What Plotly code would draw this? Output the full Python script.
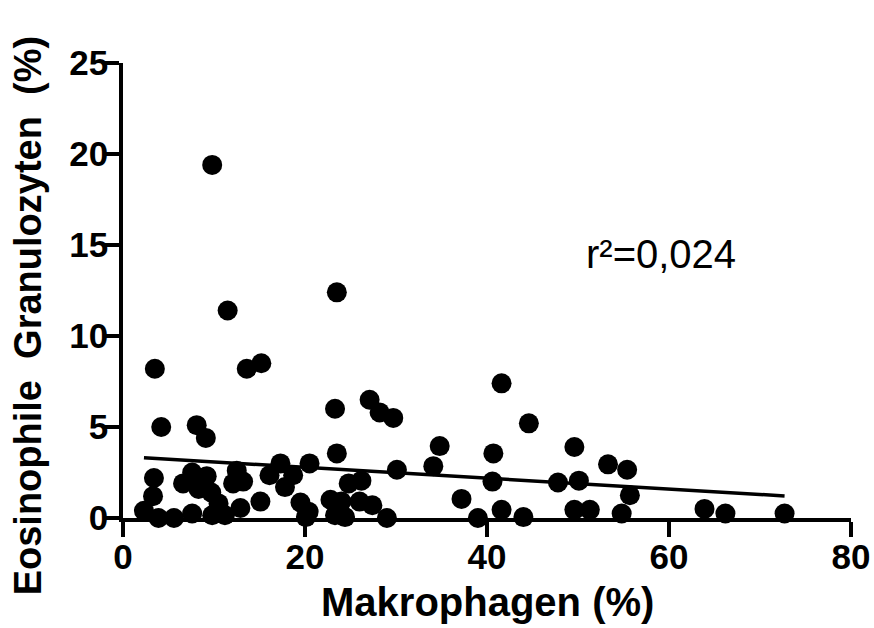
import plotly.graph_objects as go

# Macrophage share (%) and eosinophil share (%) per sample
makrophagen = [
    9.8, 11.5, 23.5, 3.5, 13.6, 15.2, 4.2, 8.1, 9.1, 23.3,
    27.1, 28.2, 29.7, 41.6, 44.6, 3.4, 3.3, 2.3, 3.9, 5.6,
    7.6, 6.6, 7.6, 9.2, 8.3, 9.7, 10.5, 9.8, 11.2, 12.1,
    12.5, 13.2, 12.9, 15.1, 16.1, 17.3, 17.8, 18.7, 19.5, 20.4,
    20.5, 20.1, 23.5, 22.8, 24.0, 23.3, 24.4, 24.8, 26.2, 26.0,
    27.4, 29.0, 30.1, 34.1, 34.8, 37.2, 39.0, 40.7, 40.6, 41.6,
    44.0, 47.8, 49.6, 50.1, 49.6, 51.3, 53.3, 55.4, 55.7, 54.8,
    63.9, 66.2, 72.7,
]
eosinophile = [
    19.4, 11.4, 12.4, 8.2, 8.2, 8.5, 5.0, 5.1, 4.4, 6.0,
    6.5, 5.8, 5.5, 7.4, 5.2, 2.2, 1.2, 0.4, 0.0, 0.0,
    0.25, 1.9, 2.5, 2.3, 1.6, 1.4, 0.8, 0.15, 0.15, 1.9,
    2.6, 2.0, 0.55, 0.9, 2.35, 3.0, 1.7, 2.35, 0.85, 0.35,
    3.0, 0.05, 3.55, 1.0, 0.9, 0.15, 0.05, 1.9, 2.05, 0.9,
    0.7, 0.0, 2.65, 2.85, 3.95, 1.05, 0.0, 3.55, 2.0, 0.45,
    0.05, 1.95, 3.9, 2.05, 0.45, 0.45, 2.95, 2.65, 1.25, 0.25,
    0.5, 0.25, 0.25,
]

# Linear regression line and its coefficient of determination
fit_slope = -0.0298
fit_intercept = 3.38
r2_text = "r²=0,024"

x_ticks = [0, 20, 40, 60, 80]
y_ticks = [0, 5, 10, 15, 20, 25]

x_title = "Makrophagen (%)"
y_title = "Eosinophile\u00a0 Granulozyten\u00a0 (%)"

fit_x = [min(makrophagen), max(makrophagen)]
fit_y = [fit_intercept + fit_slope * v for v in fit_x]

fig = go.Figure()
fig.add_trace(go.Scatter(
    x=fit_x, y=fit_y, mode="lines",
    line=dict(color="black", width=3.5),
    hoverinfo="skip", showlegend=False,
))
fig.add_trace(go.Scatter(
    x=makrophagen, y=eosinophile, mode="markers",
    marker=dict(color="black", size=20, line=dict(width=0)),
    cliponaxis=False, showlegend=False,
))

bold = dict(family="Liberation Sans, Arial, sans-serif", color="black", weight="bold")

axis_common = dict(
    showline=True, linecolor="black", linewidth=3.5,
    ticks="outside", ticklen=15, tickwidth=3.5, tickcolor="black",
    showgrid=False, zeroline=False, automargin=False,
    tickfont=dict(size=35, **bold),
)

fig.update_xaxes(range=[0, 80], tickvals=x_ticks, ticktext=[str(t) for t in x_ticks],
                 ticklabelstandoff=-10, **axis_common)
fig.update_yaxes(range=[0, 25], tickvals=y_ticks, ticktext=[str(t) for t in y_ticks],
                 ticklabelstandoff=-11, **axis_common)

fig.add_annotation(
    text=x_title, xref="paper", yref="paper", x=0.5, y=-0.185,
    xanchor="center", yanchor="middle", showarrow=False,
    font=dict(size=40, **bold),
)
fig.add_annotation(
    text=y_title, xref="paper", yref="paper", x=-0.130, y=0.444,
    xanchor="center", yanchor="middle", textangle=-90, showarrow=False,
    font=dict(size=38, **bold),
)
fig.add_annotation(
    text=r2_text, xref="x", yref="y", x=59.1, y=14.5,
    xanchor="center", yanchor="middle", showarrow=False,
    font=dict(family="Liberation Sans, Arial, sans-serif", size=40, color="black"),
)

fig.update_layout(
    width=874, height=628,
    margin=dict(l=123, r=23, t=63, b=110),
    plot_bgcolor="white", paper_bgcolor="white",
)

fig.write_html("out.html")
